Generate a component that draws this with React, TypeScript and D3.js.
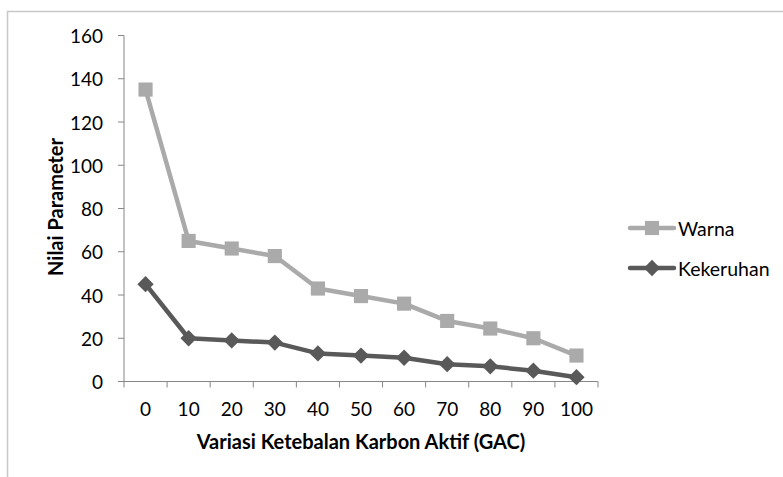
import { useEffect, useRef } from 'react';
import * as d3 from 'd3';

const categories = ['0', '10', '20', '30', '40', '50', '60', '70', '80', '90', '100'];
const warna = [135, 65, 61.5, 58, 43, 39.5, 36, 28, 24.5, 20, 12];
const kekeruhan = [45, 20, 19, 18, 13, 12, 11, 8, 7, 5, 2];
const yTicks = [0, 20, 40, 60, 80, 100, 120, 140, 160];

const FONT = 'Lato, "Open Sans", sans-serif';
const AXIS = '#868686';
const LIGHT = '#aaaaaa';
const DARK = '#595959';

export default function App() {
  const svgRef = useRef<SVGSVGElement>(null);

  useEffect(() => {
    if (!svgRef.current) return;
    const svg = d3.select(svgRef.current);
    svg.selectAll('*').remove();

    // outer frame (the chart area border)
    svg.append('rect')
      .attr('x', 7.5).attr('y', 11.5)
      .attr('width', 800).attr('height', 500)
      .attr('fill', 'none')
      .attr('stroke', '#c8c8c8')
      .attr('stroke-width', 1.5);

    const x = d3.scaleBand().domain(categories).range([124, 598]);
    const y = d3.scaleLinear().domain([0, 160]).range([381.5, 35.5]);
    const cx = (i: number) => (x(categories[i]) || 0) + x.bandwidth() / 2;

    // y axis
    const g = svg.append('g');
    g.append('line')
      .attr('x1', 124).attr('x2', 124)
      .attr('y1', y(160)).attr('y2', y(0))
      .attr('stroke', AXIS).attr('stroke-width', 1);
    yTicks.forEach(t => {
      g.append('line')
        .attr('x1', 118).attr('x2', 124)
        .attr('y1', y(t)).attr('y2', y(t))
        .attr('stroke', AXIS);
      g.append('text')
        .attr('x', 103).attr('y', y(t))
        .attr('text-anchor', 'end')
        .attr('dominant-baseline', 'central')
        .attr('font-family', FONT).attr('font-size', 19)
        .attr('fill', '#000')
        .text(t);
    });

    // x axis
    g.append('line')
      .attr('x1', 124).attr('x2', 598)
      .attr('y1', y(0)).attr('y2', y(0))
      .attr('stroke', AXIS);
    const edges = categories.map(c => x(c) || 0).concat([598]);
    edges.forEach(e => {
      g.append('line')
        .attr('x1', e).attr('x2', e)
        .attr('y1', y(0)).attr('y2', y(0) + 6)
        .attr('stroke', AXIS);
    });
    categories.forEach((c, i) => {
      g.append('text')
        .attr('x', cx(i)).attr('y', 408)
        .attr('text-anchor', 'middle')
        .attr('dominant-baseline', 'central')
        .attr('font-family', FONT).attr('font-size', 19)
        .attr('fill', '#000')
        .text(c);
    });

    // axis titles
    svg.append('text')
      .attr('transform', `translate(55,207) rotate(-90)`)
      .attr('text-anchor', 'middle')
      .attr('dominant-baseline', 'central')
      .attr('font-family', FONT).attr('font-size', 20).attr('font-weight', 'bold')
      .text('Nilai Parameter');
    svg.append('text')
      .attr('x', 361).attr('y', 441)
      .attr('text-anchor', 'middle')
      .attr('dominant-baseline', 'central')
      .attr('font-family', FONT).attr('font-size', 20).attr('font-weight', 'bold')
      .text('Variasi Ketebalan Karbon Aktif (GAC)');

    const line = d3.line<number>().x((_, i) => cx(i)).y(d => y(d));

    // Warna series
    svg.append('path')
      .attr('d', line(warna))
      .attr('fill', 'none').attr('stroke', LIGHT)
      .attr('stroke-width', 4.5).attr('stroke-linejoin', 'round');
    const sq = d3.symbol().type(d3.symbolSquare).size(200);
    svg.selectAll('.sq').data(warna).join('path')
      .attr('transform', (d, i) => `translate(${cx(i)},${y(d)})`)
      .attr('d', sq() as string)
      .attr('fill', LIGHT);

    // Kekeruhan series
    svg.append('path')
      .attr('d', line(kekeruhan))
      .attr('fill', 'none').attr('stroke', DARK)
      .attr('stroke-width', 4.5).attr('stroke-linejoin', 'round');
    const dm = d3.symbol().type(d3.symbolDiamond2).size(170);
    svg.selectAll('.dm').data(kekeruhan).join('path')
      .attr('transform', (d, i) => `translate(${cx(i)},${y(d)})`)
      .attr('d', dm() as string)
      .attr('fill', DARK);

    // legend
    const legend = [
      { name: 'Warna', color: LIGHT, sym: sq, y: 228 },
      { name: 'Kekeruhan', color: DARK, sym: dm, y: 268 },
    ];
    legend.forEach(l => {
      svg.append('line')
        .attr('x1', 630).attr('x2', 674)
        .attr('y1', l.y).attr('y2', l.y)
        .attr('stroke', l.color).attr('stroke-width', 4.5)
        .attr('stroke-linecap', 'round');
      svg.append('path')
        .attr('transform', `translate(652,${l.y})`)
        .attr('d', l.sym() as string)
        .attr('fill', l.color);
      svg.append('text')
        .attr('x', 678).attr('y', l.y)
        .attr('dominant-baseline', 'central')
        .attr('font-family', FONT).attr('font-size', 19.5)
        .text(l.name);
    });
  }, []);

  return (
    <svg
      ref={svgRef}
      width={783}
      height={477}
      style={{ position: 'absolute', left: 0, top: 0, background: '#fff' }}
    />
  );
}
